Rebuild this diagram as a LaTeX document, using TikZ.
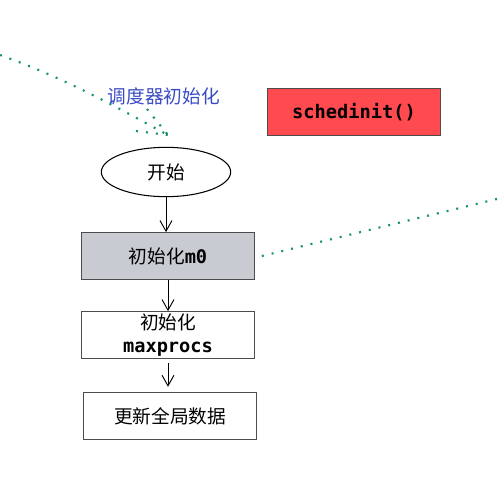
\documentclass[tikz,border=0pt]{standalone}
\usepackage{fontspec}
\setmainfont{Noto Sans CJK SC}
\setmonofont{DejaVu Sans Mono}
\usetikzlibrary{positioning, arrows.meta, shapes.geometric}
\definecolor{dotgreen}{HTML}{1A9273}
\definecolor{labelblue}{HTML}{3A4CC4}
\definecolor{boxred}{HTML}{FF4A50}
\definecolor{boxgray}{HTML}{C8CCD2}
\newcommand{\code}[1]{\texttt{\bfseries #1}}

\begin{document}
\begin{tikzpicture}[x=0.75pt, y=-0.75pt, align=center, font=\fontsize{14}{17}\selectfont,
		stepbox/.style={draw=black!70, line width=0.8pt, minimum width=130pt, minimum height=35pt, inner sep=1pt},
		flow/.style={-{Straight Barb[length=8pt,width=9pt]}, line width=0.7pt},
		link/.style={dotgreen, line width=1.6pt, dash pattern=on 1.5pt off 6pt}]
						
						\path[use as bounding box] (0,0) rectangle (501,476);
						
						\node[ellipse, draw, line width=0.8pt, minimum width=97pt, minimum height=37pt] (start) at (166,172) {开始};
						\node[stepbox, fill=boxgray] (m0) at (168,256) {初始化\code{m0}};
						\node[stepbox] (procs) at (168,335) {初始化\\\code{maxprocs}};
						\node[stepbox] (update) at (170,416) {更新全局数据};
						\node[stepbox, fill=boxred] (sched) at (354,112) {\code{schedinit()}};
						\node[labelblue] (title) at (164,96) {调度器初始化};
						
						\draw[flow] (start) -- (start |- m0.north);
						\draw[flow] (m0) -- (procs);
						\draw[flow, shorten <=3pt, shorten >=4pt] (procs) -- (procs |- update.north);
						
						\coordinate (from) at (0,55);
						\coordinate (tip)  at (168,135);
						\coordinate (barbA) at (147,109);
						\coordinate (barbB) at (136,131);
						\coordinate (edge) at (501,198);
						
						\draw[link] (from) .. controls (70,80) and (125,112) .. (tip);
						\draw[link] (barbA) -- (tip) (barbB) -- (tip);
						\draw[link] ([xshift=5pt]m0.east) -- (edge);
					\end{tikzpicture}
\end{document}
